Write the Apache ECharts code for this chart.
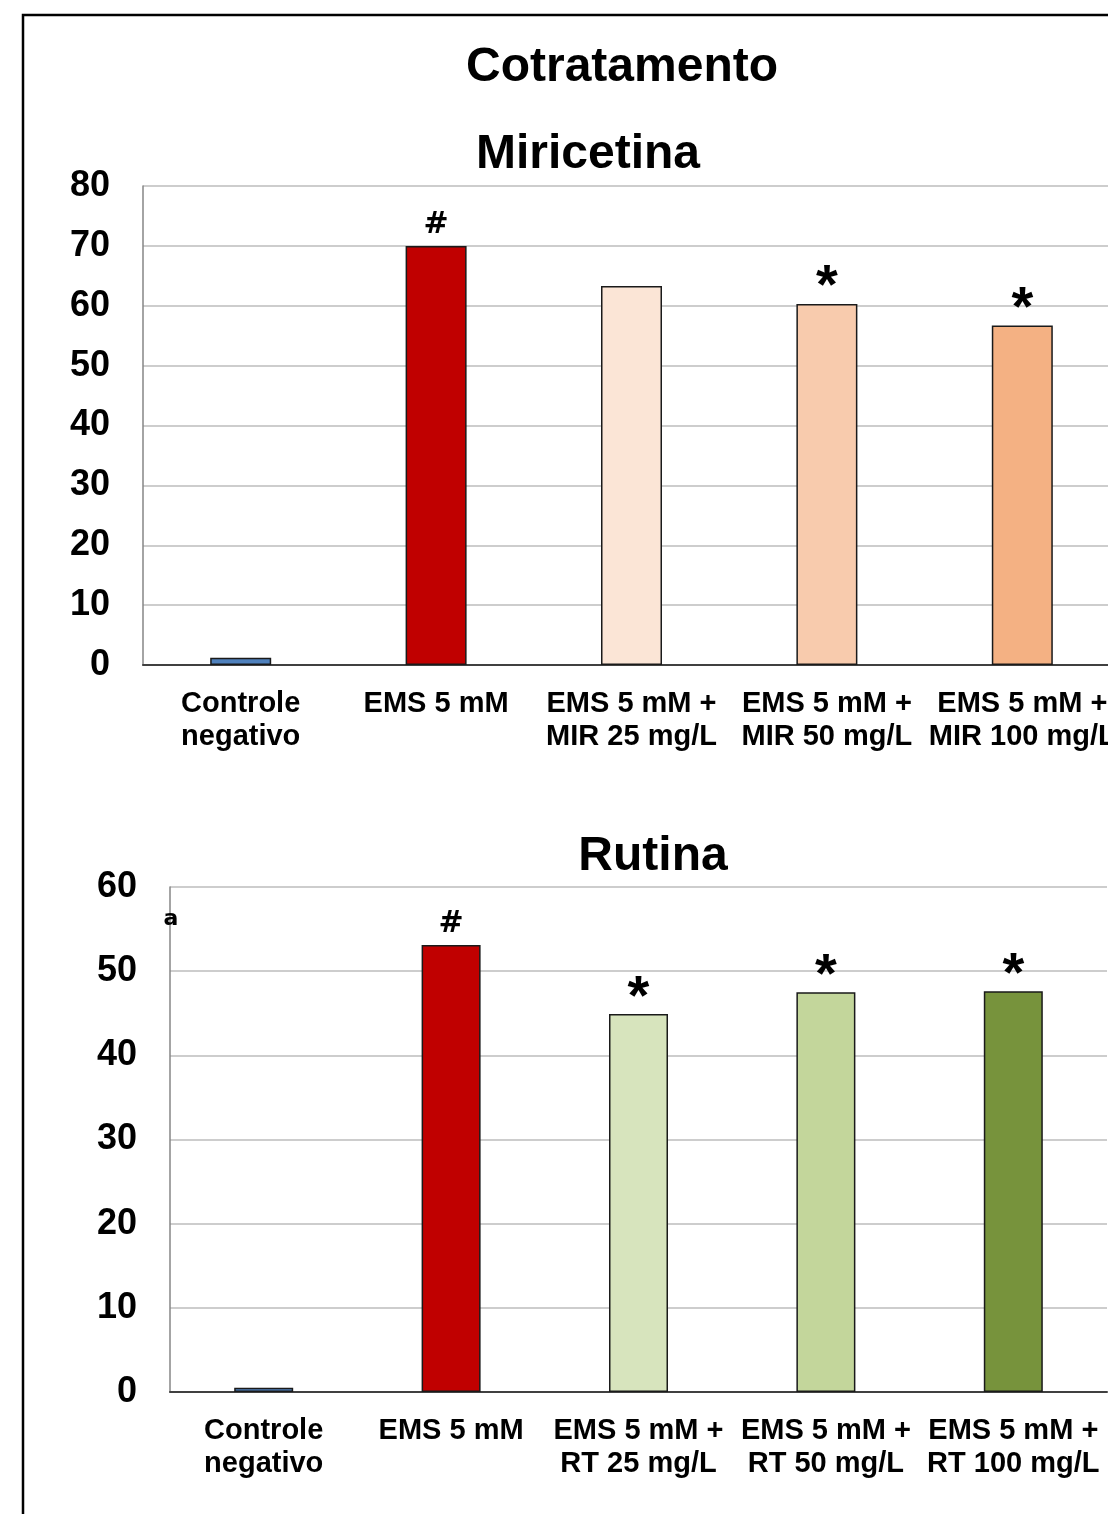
<!DOCTYPE html>
<html><head><meta charset="utf-8">
<script src="https://cdn.jsdelivr.net/npm/echarts@6/dist/echarts.min.js"></script>
<style>html,body{margin:0;padding:0;overflow:hidden;background:#fff}#c{width:1108px;height:1514px}</style>
</head><body><div id="c"></div>
<script>
const categoriesMir = ['Controle\nnegativo','EMS 5 mM','EMS 5 mM +\nMIR 25 mg/L','EMS 5 mM +\nMIR 50 mg/L','EMS 5 mM +\nMIR 100 mg/L'];
const valuesMir = [1.2, 70, 63.3, 60.3, 56.7];
const marksMir = ['', '#', '', '*', '*'];
const colorsMir = ['#4F81BD','#C00000','#FBE5D6','#F8CBAD','#F4B183'];
const categoriesRt = ['Controle\nnegativo','EMS 5 mM','EMS 5 mM +\nRT 25 mg/L','EMS 5 mM +\nRT 50 mg/L','EMS 5 mM +\nRT 100 mg/L'];
const valuesRt = [0.5, 53.1, 44.9, 47.5, 47.6];
const marksRt = ['', '#', '*', '*', '*'];
const colorsRt = ['#4F81BD','#C00000','#D7E4BD','#C3D69B','#77933C'];
const ticksMir = {min:0, max:80, interval:10};
const ticksRt = {min:0, max:60, interval:10};

const F = '"Liberation Sans", Arial, sans-serif';
const chart = echarts.init(document.getElementById('c'));

function yAxis(i, t){
  return {gridIndex:i, type:'value', min:t.min, max:t.max, interval:t.interval,
    axisLine:{show:true, lineStyle:{color:'#868686', width:1.5}},
    axisTick:{show:false},
    splitLine:{lineStyle:{color:'#bdbdbd', width:1.5}},
    axisLabel:{color:'#000', fontFamily:F, fontWeight:'bold', fontSize:36, margin:33}};
}
function xAxis(i, cats){
  return {gridIndex:i, type:'category', data:cats,
    axisLine:{show:true, lineStyle:{color:'#404040', width:2}},
    axisTick:{show:false},
    axisLabel:{interval:0, color:'#000', fontFamily:F, fontWeight:'bold', fontSize:29, lineHeight:33, margin:22}};
}
function series(i, vals, cols, marks, bw){
  return {type:'bar', xAxisIndex:i, yAxisIndex:i, barWidth:bw,
    data: vals.map((v,k)=>({value:v, itemStyle:{color:cols[k]}, label:{show: marks[k] !== '', formatter: marks[k]==='#' ? '{h|#}' : '{s|*}'}})),
    itemStyle:{borderColor:'#1a1a1a', borderWidth:1.5},
    label:{position:'top', distance:6, rich:{
      h:{fontFamily:'"DejaVu Sans", sans-serif', fontWeight:'bold', fontSize:30, color:'#000'},
      s:{fontFamily:F, fontWeight:'bold', fontSize:56, color:'#000', padding:[0,0,-18,0]}}}
  };
}

chart.setOption({
  animation:false,
  grid:[
    {left:143, top:186, width:977, height:479, outerBoundsMode:'none', containLabel:false},
    {left:170, top:887, width:937, height:505, outerBoundsMode:'none', containLabel:false}
  ],
  xAxis:[xAxis(0, categoriesMir), xAxis(1, categoriesRt)],
  yAxis:[yAxis(0, ticksMir), yAxis(1, ticksRt)],
  series:[series(0, valuesMir, colorsMir, marksMir, 61), series(1, valuesRt, colorsRt, marksRt, 59)],
  graphic:[
    {type:'rect', shape:{x:23, y:15, width:1300, height:1700}, style:{fill:'none', stroke:'#000', lineWidth:2.5}, z:100},
    {type:'text', x:622, y:68, style:{text:'Cotratamento', font:'bold 48px '+F, fill:'#000', textAlign:'center', textVerticalAlign:'middle'}},
    {type:'text', x:588, y:155, style:{text:'Miricetina', font:'bold 48px '+F, fill:'#000', textAlign:'center', textVerticalAlign:'middle'}},
    {type:'text', x:653, y:857, style:{text:'Rutina', font:'bold 48px '+F, fill:'#000', textAlign:'center', textVerticalAlign:'middle'}},
    {type:'text', x:171, y:919, style:{text:'a', font:'bold 22px "DejaVu Sans", sans-serif', fill:'#000', textAlign:'center', textVerticalAlign:'middle'}, z:100}
  ]
});
</script></body></html>
